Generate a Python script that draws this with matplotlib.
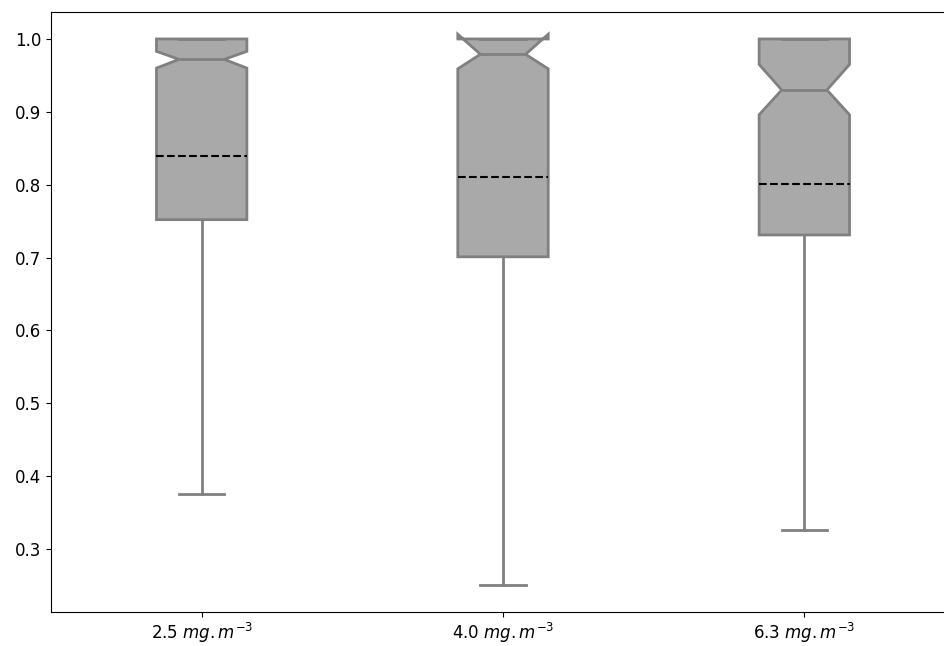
import matplotlib
matplotlib.use("Agg")
import matplotlib.pyplot as plt

labels = ["2.5 $mg.m^{-3}$", "4.0 $mg.m^{-3}$", "6.3 $mg.m^{-3}$"]
q1 = [0.752, 0.701, 0.731]
q3 = [1.0, 1.0, 1.0]
med = [0.972, 0.979, 0.930]
cilo = [0.960, 0.959, 0.896]
cihi = [0.983, 1.0065, 0.965]
whislo = [0.375, 0.251, 0.326]
whishi = [1.0, 1.0, 1.0]
mean = [0.840, 0.811, 0.801]

stats = []
for i in range(len(labels)):
    stats.append(dict(med=med[i], q1=q1[i], q3=q3[i], whislo=whislo[i],
                      whishi=whishi[i], mean=mean[i], cilo=cilo[i],
                      cihi=cihi[i], fliers=[], label=labels[i]))

fig = plt.figure(figsize=(9.45, 6.46), dpi=100)
ax = fig.add_axes([51/945, 1 - 611.5/646, (955-51)/945, (611.5-12)/646])

gray = "#808080"
ax.bxp(stats, widths=0.3, shownotches=True, showmeans=True, meanline=True,
       patch_artist=True, showfliers=False,
       boxprops=dict(facecolor="#a9a9a9", edgecolor=gray, linewidth=2),
       whiskerprops=dict(color=gray, linewidth=2),
       capprops=dict(color=gray, linewidth=2),
       medianprops=dict(color=gray, linewidth=2),
       meanprops=dict(color="black", linestyle="--", linewidth=1.5))

ax.set_xlim(0.5, 3.5)
ax.set_ylim(0.2142, 1.037)
ax.set_yticks([0.3, 0.4, 0.5, 0.6, 0.7, 0.8, 0.9, 1.0])
ax.spines["right"].set_visible(False)
ax.tick_params(axis="both", labelsize=12)

fig.savefig("out.png", dpi=100)
